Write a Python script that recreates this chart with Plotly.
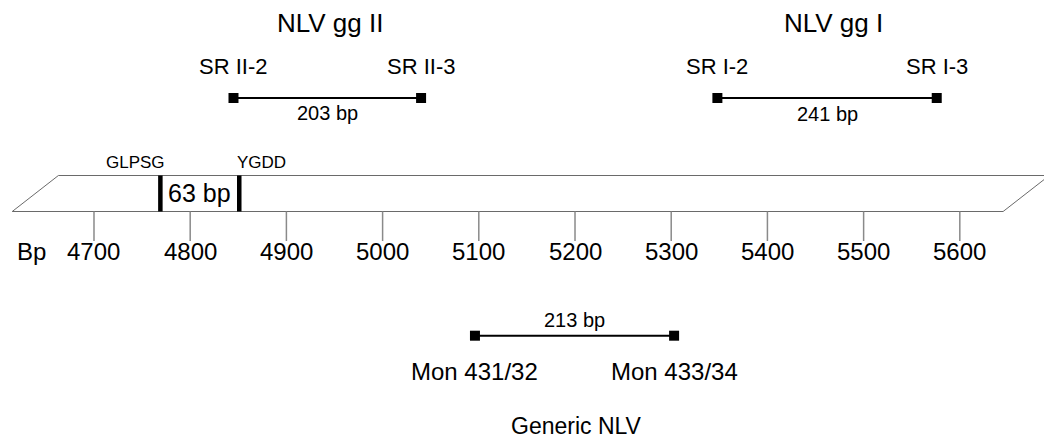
import plotly.graph_objects as go

# ---- data ----
tick_bp = [4700, 4800, 4900, 5000, 5100, 5200, 5300, 5400, 5500, 5600]
tick_labels = [str(t) for t in tick_bp]

motif_names = ["GLPSG", "YGDD"]
motif_bp = [4769, 4851]
motif_gap_label = "63 bp"

genome_start_bp = 4615   # bottom-left corner of the drawn segment
genome_end_bp = 5645     # bottom-right corner
genome_slant_bp = 48     # horizontal offset of the slanted ends

primer_sets = ["NLV gg II", "NLV gg I", "Generic NLV"]
primer_fwd_names = ["SR II-2", "SR I-2", "Mon 431/32"]
primer_rev_names = ["SR II-3", "SR I-3", "Mon 433/34"]
primer_fwd_bp = [4845, 5348, 5096]
primer_rev_bp = [5040, 5576, 5303]
amplicon_labels = ["203 bp", "241 bp", "213 bp"]

# ---- layout helpers (vertical positions in pixel-like units) ----
FONT = "Liberation Sans"
y_top, y_bot = 175.5, 211.5
y_tick_end = 241
y_ticklab = 251

fig = go.Figure()

# genome bar (parallelogram)
px = [genome_start_bp, genome_end_bp, genome_end_bp + genome_slant_bp,
      genome_start_bp + genome_slant_bp, genome_start_bp]
py = [y_bot, y_bot, y_top, y_top, y_bot]
fig.add_trace(go.Scatter(x=px, y=py, mode="lines",
                         line=dict(color="#6a6a6a", width=1), hoverinfo="skip"))

# ticks
for t in tick_bp:
    fig.add_trace(go.Scatter(x=[t, t], y=[y_bot, y_tick_end], mode="lines",
                             line=dict(color="#8a8a8a", width=1.5), hoverinfo="skip"))

# motif bars
for name, b in zip(motif_names, motif_bp):
    fig.add_trace(go.Scatter(x=[b, b], y=[y_top, y_bot], mode="lines",
                             line=dict(color="black", width=4.5), hoverinfo="skip"))

annotations = []
def txt(x, y, s, size, xanchor="center"):
    annotations.append(dict(x=x, y=y, xref="x", yref="y", text=s, showarrow=False,
                            xanchor=xanchor, yanchor="middle",
                            font=dict(family=FONT, size=size, color="black")))

for t, lab in zip(tick_bp, tick_labels):
    txt(t, y_ticklab, lab, 24)
txt(4602.3 + 15 / 0.962, y_ticklab, "Bp", 24, xanchor="left")

txt(motif_bp[0] - 26, 162, motif_names[0], 17)
txt(motif_bp[1] + 23, 162, motif_names[1], 17)
txt((motif_bp[0] + motif_bp[1]) / 2, 193, motif_gap_label, 25)

# primer sets
line_y = [98, 98, 335.7]
amp_y = [113, 114, 320]
name_y = [66, 66, 371.5]
set_y = [23, 23, 426]
set_xoff = [3, 6.5, 2]
for i in range(3):
    f, r = primer_fwd_bp[i], primer_rev_bp[i]
    fig.add_trace(go.Scatter(x=[f, r], y=[line_y[i], line_y[i]], mode="lines+markers",
                             line=dict(color="black", width=2),
                             marker=dict(symbol="square", size=10, color="black"),
                             hoverinfo="skip"))
    txt((f + r) / 2, amp_y[i], amplicon_labels[i], 20)
    txt(f, name_y[i], primer_fwd_names[i], 22 if i < 2 else 24)
    txt(r, name_y[i], primer_rev_names[i], 22 if i < 2 else 24)
    txt((f + r) / 2 + set_xoff[i], set_y[i], primer_sets[i], 26 if i < 2 else 23)

fig.update_layout(
    width=1044, height=439,
    margin=dict(l=0, r=0, t=0, b=0),
    paper_bgcolor="white", plot_bgcolor="white",
    showlegend=False,
    annotations=annotations,
    xaxis=dict(range=[4602.3, 5687.5], visible=False, fixedrange=True),
    yaxis=dict(range=[439, 0], visible=False, fixedrange=True),
)

fig.write_html("out.html", config={"displayModeBar": False},
               post_script="document.body.style.margin='0px';document.body.style.overflow='hidden';")
